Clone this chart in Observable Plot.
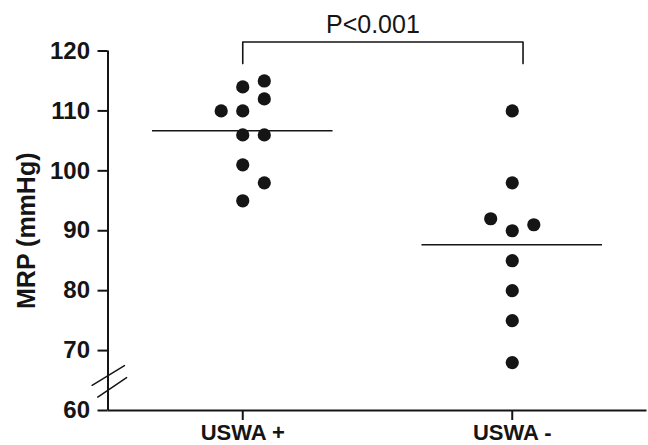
<!DOCTYPE html>
<html>
<head>
<meta charset="utf-8">
<script src="https://cdn.jsdelivr.net/npm/d3@7"></script>
<script src="https://cdn.jsdelivr.net/npm/@observablehq/plot@0.6"></script>
<style>
  html, body { margin: 0; padding: 0; background: #fff; }
  #chart svg { display: block; }
</style>
</head>
<body>
<div id="chart"></div>
<script>
// Categories (x positions 1 and 2)
const groups = ["USWA +", "USWA -"];
// MRP values per group and their dot-column (-1 left, 0 centre, 1 right)
const uswaPlusValues = [114, 115, 112, 110, 110, 106, 106, 101, 98, 95];
const uswaPlusCols   = [0, 1, 1, -1, 0, 0, 1, 0, 1, 0];
const uswaMinusValues = [110, 98, 92, 91, 90, 85, 80, 75, 68];
const uswaMinusCols   = [0, 0, -1, 1, 0, 0, 0, 0, 0];
const yTicks = [60, 70, 80, 90, 100, 110, 120];
const pLabel = "P<0.001";

const colStep = 0.08;
const points = [
  ...uswaPlusValues.map((v, i) => ({g: 1, col: uswaPlusCols[i], v})),
  ...uswaMinusValues.map((v, i) => ({g: 2, col: uswaMinusCols[i], v}))
].map(d => ({...d, x: d.g + d.col * colStep}));

const means = [uswaPlusValues, uswaMinusValues].map((arr, i) => ({g: i + 1, m: d3.mean(arr)}));

// significance bracket (ends slightly beyond group 2, as in the original)
const bracket = [
  {x: 1, y: 117.9}, {x: 1, y: 121.5}, {x: 2.04, y: 121.5}, {x: 2.04, y: 117.9}
];
// axis-break slashes
const breakMarks = [
  [{x: 0.441, y: 64.2}, {x: 0.561, y: 67.5}],
  [{x: 0.462, y: 62.25}, {x: 0.569, y: 65.5}]
];

const ink = "#151515";

const chart = Plot.plot({
  width: 648,
  height: 445,
  marginLeft: 107.5,
  marginRight: 1.5,
  marginTop: 50.5,
  marginBottom: 35,
  style: {fontFamily: "'Liberation Sans', Arial, sans-serif", fontWeight: "bold", color: ink, background: "#fff"},
  x: {domain: [0.5, 2.5], axis: null},
  y: {domain: [60, 120], axis: null},
  marks: [
    Plot.axisY({
      ticks: yTicks, tickSize: 10, tickPadding: 8, fontSize: 24, fontWeight: "bold",
      strokeWidth: 2, label: null
    }),
    Plot.axisY({
      ticks: [], label: "MRP (mmHg)", labelAnchor: "center", labelArrow: "none",
      labelOffset: 91, fontSize: 25, fontWeight: "bold"
    }),
    Plot.axisX({
      ticks: [1, 2], tickFormat: d => groups[d - 1], tickSize: 10, tickPadding: 4,
      fontSize: 22, fontWeight: "bold", strokeWidth: 2, label: null
    }),
    Plot.ruleX([0.5], {y1: 60, y2: 120, stroke: ink, strokeWidth: 2}),
    Plot.ruleY([60], {x1: 0.5, x2: 2.5, stroke: ink, strokeWidth: 2}),
    ...breakMarks.map(seg => Plot.line(seg, {x: "x", y: "y", stroke: ink, strokeWidth: 1.5, clip: false})),
    Plot.ruleY(means, {y: "m", x1: d => d.g - 0.335, x2: d => d.g + 0.335, stroke: ink, strokeWidth: 1.6}),
    Plot.dot(points, {x: "x", y: "v", r: 6.6, fill: ink, stroke: "none"}),
    Plot.line(bracket, {x: "x", y: "y", stroke: ink, strokeWidth: 1.6, clip: false}),
    Plot.text([pLabel], {x: 1.483, y: 123.05, text: d => d, fontSize: 25, fontWeight: "normal",
      lineAnchor: "bottom", textAnchor: "middle", fill: ink})
  ]
});
document.getElementById("chart").appendChild(chart);
</script>
</body>
</html>
